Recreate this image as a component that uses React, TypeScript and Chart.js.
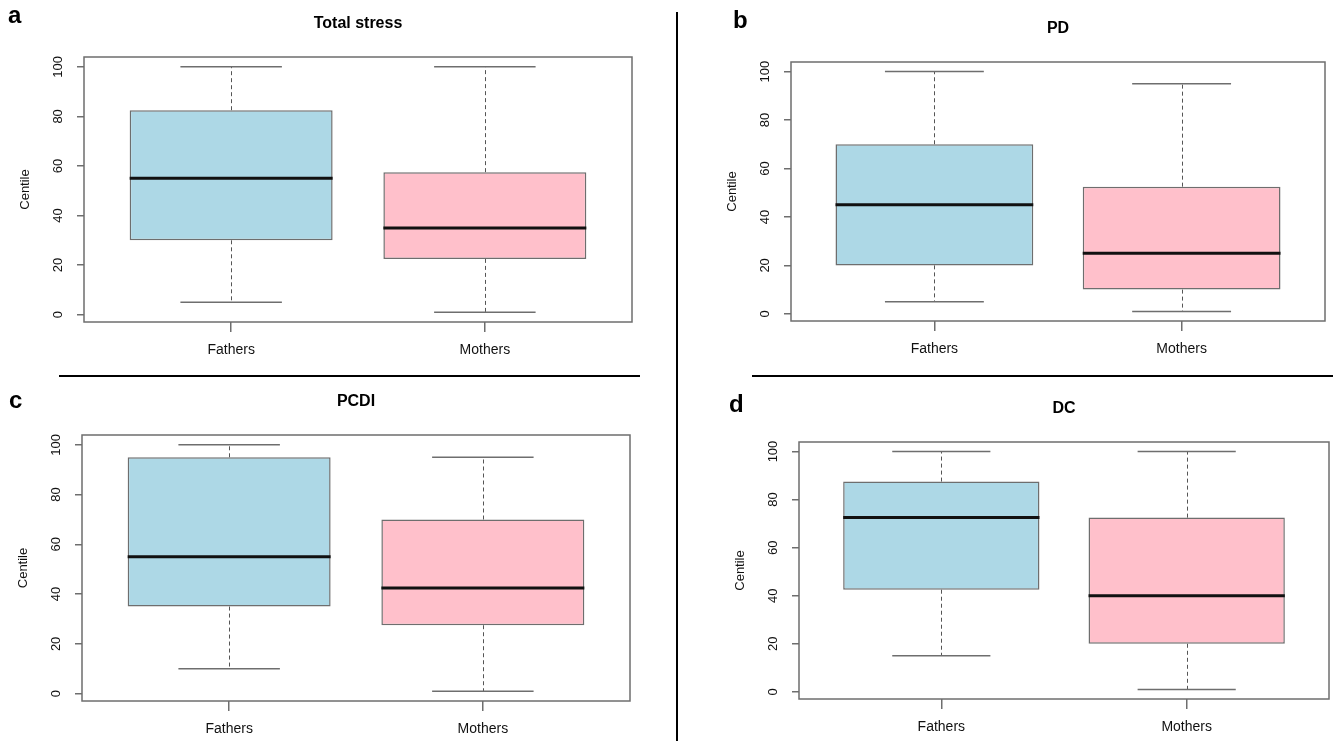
import React, { useEffect, useRef } from "react";
import { Chart, registerables } from "chart.js";

Chart.register(...registerables);

// ---------- data ----------
const groups = ["Fathers", "Mothers"];
const yTicks = [0, 20, 40, 60, 80, 100];
const panelLetters = ["a", "b", "c", "d"];
const panelTitles = ["Total stress", "PD", "PCDI", "DC"];

// five-number summaries: [min, Q1, median, Q3, max]
const totalStressFathers = [5, 30, 55, 82.5, 100];
const totalStressMothers = [1, 22.5, 35, 57.5, 100];
const pdFathers = [5, 20, 45, 70, 100];
const pdMothers = [1, 10, 25, 52.5, 95];
const pcdiFathers = [10, 35, 55, 95, 100];
const pcdiMothers = [1, 27.5, 42.5, 70, 95];
const dcFathers = [15, 42.5, 72.5, 87.5, 100];
const dcMothers = [1, 20, 40, 72.5, 100];

const panelStats = [
  [totalStressFathers, totalStressMothers],
  [pdFathers, pdMothers],
  [pcdiFathers, pcdiMothers],
  [dcFathers, dcMothers],
];

// ---------- style / layout ----------
const FONT = "'Liberation Sans', Arial, Helvetica, sans-serif";
const groupColors = ["#ADD8E6", "#FFC0CB"];
const lineGray = "#6e6e6e";
const BOX_WIDTH = 0.8;
const STAPLE_WIDTH = 0.4;
const Y_AXIS_W = 84;
const X_AXIS_H = 45;
const PAD_TOP = 57;
const PAD_RIGHT = 4;

const panelFrames = [
  { left: 84, right: 632, top: 57, bottom: 322, letterX: 8, letterY: 23 },
  { left: 791, right: 1325, top: 62, bottom: 321, letterX: 733, letterY: 28 },
  { left: 82, right: 630, top: 435, bottom: 701, letterX: 9, letterY: 408 },
  { left: 799, right: 1329, top: 442, bottom: 699, letterX: 729, letterY: 412 },
];

function rangeR(lo: number, hi: number) {
  const d = (hi - lo) * 0.04;
  return [lo - d, hi + d];
}

const boxPlugin = {
  id: "rbox",
  afterDatasetsDraw(chart: any, _args: any, opts: any) {
    const { ctx } = chart;
    const x = chart.scales.x;
    const y = chart.scales.y;
    const stats: number[][] = opts.stats;
    ctx.save();
    stats.forEach((s, i) => {
      const xv = i + 1;
      const cx = Math.round(x.getPixelForValue(xv)) + 0.5;
      const capL = x.getPixelForValue(xv - STAPLE_WIDTH / 2);
      const capR = x.getPixelForValue(xv + STAPLE_WIDTH / 2);
      const boxL = x.getPixelForValue(xv - BOX_WIDTH / 2);
      const boxR = x.getPixelForValue(xv + BOX_WIDTH / 2);
      // whiskers
      ctx.strokeStyle = "#555";
      ctx.lineWidth = 1;
      ctx.setLineDash([4, 3]);
      ctx.beginPath();
      ctx.moveTo(cx, y.getPixelForValue(s[3]));
      ctx.lineTo(cx, y.getPixelForValue(s[4]));
      ctx.moveTo(cx, y.getPixelForValue(s[1]));
      ctx.lineTo(cx, y.getPixelForValue(s[0]));
      ctx.stroke();
      ctx.setLineDash([]);
      // staples
      ctx.strokeStyle = lineGray;
      ctx.lineWidth = 1.5;
      ctx.beginPath();
      ctx.moveTo(capL, y.getPixelForValue(s[4]));
      ctx.lineTo(capR, y.getPixelForValue(s[4]));
      ctx.moveTo(capL, y.getPixelForValue(s[0]));
      ctx.lineTo(capR, y.getPixelForValue(s[0]));
      ctx.stroke();
      // median
      ctx.strokeStyle = "#111";
      ctx.lineWidth = 3;
      ctx.beginPath();
      ctx.moveTo(boxL, y.getPixelForValue(s[2]));
      ctx.lineTo(boxR, y.getPixelForValue(s[2]));
      ctx.stroke();
    });
    ctx.restore();
  },
  afterDraw(chart: any, _args: any, opts: any) {
    const { ctx, chartArea: a } = chart;
    ctx.save();
    // frame
    ctx.strokeStyle = lineGray;
    ctx.lineWidth = 1.5;
    ctx.strokeRect(a.left, a.top, a.right - a.left, a.bottom - a.top);
    // title
    ctx.fillStyle = "#000";
    ctx.font = `bold 16px ${FONT}`;
    ctx.textAlign = "center";
    ctx.textBaseline = "middle";
    ctx.fillText(opts.title, (a.left + a.right) / 2, a.top - 33);
    // panel letter
    ctx.font = `bold 24px ${FONT}`;
    ctx.textAlign = "left";
    ctx.textBaseline = "alphabetic";
    ctx.fillText(opts.letter, opts.letterX, opts.letterY);
    ctx.restore();
  },
};

function Panel({ idx }: { idx: number }) {
  const ref = useRef<HTMLCanvasElement | null>(null);
  const f = panelFrames[idx];
  const cLeft = f.left - Y_AXIS_W;
  const cTop = f.top - PAD_TOP;
  const cW = f.right + PAD_RIGHT - cLeft;
  const cH = f.bottom + X_AXIS_H - cTop;
  const stats = panelStats[idx];
  const allVals = stats.flat();
  const [yMin, yMax] = rangeR(Math.min(...allVals), Math.max(...allVals));
  const [xMin, xMax] = rangeR(0.5, groups.length + 0.5);

  useEffect(() => {
    if (!ref.current) return;
    const chart = new Chart(ref.current, {
      type: "bar",
      data: {
        datasets: [
          {
            data: stats.map((s, i) => ({ x: i + 1, y: [s[1], s[3]] })) as any,
            backgroundColor: groupColors,
            borderColor: lineGray,
            borderWidth: 1.5,
            borderSkipped: false,
            barPercentage: BOX_WIDTH,
            categoryPercentage: 1,
          },
        ],
      },
      options: {
        animation: false,
        responsive: false,
        events: [],
        layout: { padding: { left: 0, top: PAD_TOP, right: PAD_RIGHT, bottom: 0 } },
        plugins: {
          legend: { display: false },
          tooltip: { enabled: false },
          rbox: {
            stats,
            title: panelTitles[idx],
            letter: panelLetters[idx],
            letterX: f.letterX - cLeft,
            letterY: f.letterY - cTop,
          },
        } as any,
        scales: {
          x: {
            type: "linear",
            min: xMin,
            max: xMax,
            offset: false,
            afterBuildTicks: (s: any) => {
              s.ticks = groups.map((_, i) => ({ value: i + 1 }));
            },
            afterFit: (s: any) => {
              s.height = X_AXIS_H;
            },
            ticks: {
              callback: (v: any) => groups[Number(v) - 1] ?? "",
              font: { family: FONT, size: 14 },
              color: "#111",
              padding: 10,
              autoSkip: false,
              maxRotation: 0,
              minRotation: 0,
            },
            grid: {
              drawOnChartArea: false,
              drawTicks: true,
              tickLength: 10,
              color: lineGray,
              lineWidth: 1.5,
              offset: false,
            },
            border: { display: false },
          },
          y: {
            type: "linear",
            min: yMin,
            max: yMax,
            afterBuildTicks: (s: any) => {
              s.ticks = yTicks.map((v) => ({ value: v }));
            },
            afterFit: (s: any) => {
              s.width = Y_AXIS_W;
            },
            ticks: {
              font: { family: FONT, size: 13 },
              color: "#111",
              padding: 8,
              minRotation: 90,
              maxRotation: 90,
              crossAlign: "center",
              autoSkip: false,
            },
            grid: {
              drawOnChartArea: false,
              drawTicks: true,
              tickLength: 7,
              color: lineGray,
              lineWidth: 1.5,
            },
            border: { display: false },
            title: {
              display: true,
              text: "Centile",
              color: "#111",
              font: { family: FONT, size: 13 },
              padding: { top: 18, bottom: 0 },
            },
          },
        },
      } as any,
      plugins: [boxPlugin as any],
    });
    return () => chart.destroy();
  }, []);

  return (
    <canvas
      ref={ref}
      width={cW}
      height={cH}
      style={{ position: "absolute", left: cLeft, top: cTop, width: cW, height: cH, display: "block" }}
    />
  );
}

export default function App() {
  return (
    <div
      style={{
        position: "fixed",
        left: 0,
        top: 0,
        width: 1333,
        height: 741,
        overflow: "hidden",
        background: "#fff",
      }}
    >
      {panelFrames.map((_, i) => (
        <Panel key={i} idx={i} />
      ))}
      <div style={{ position: "absolute", left: 676, top: 12, width: 2, height: 729, background: "#000" }} />
      <div style={{ position: "absolute", left: 59, top: 375, width: 581, height: 2, background: "#000" }} />
      <div style={{ position: "absolute", left: 752, top: 375, width: 581, height: 2, background: "#000" }} />
    </div>
  );
}
